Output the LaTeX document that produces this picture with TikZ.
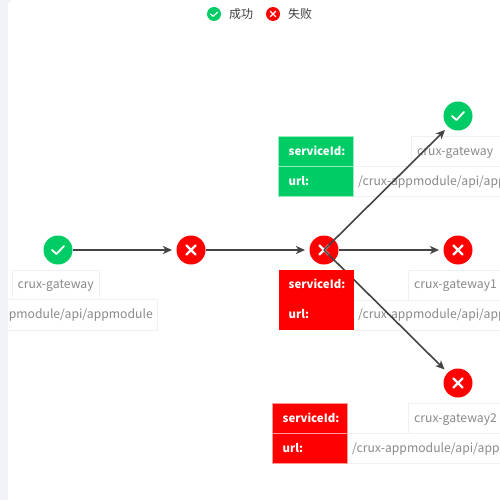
\documentclass[tikz,border=0pt]{standalone}
\usepackage{fontspec}
\setmainfont{Noto Sans CJK SC}
\usetikzlibrary{arrows.meta}
\definecolor{okc}{HTML}{00CC66}
\definecolor{badc}{HTML}{FF0000}
\definecolor{stripc}{HTML}{F2F3F9}
\definecolor{edgec}{HTML}{444444}
\definecolor{linec}{HTML}{F0F0F0}
\definecolor{txtc}{HTML}{8A8A8A}
\tikzset{
 x=1pt,y=-1pt,
 okdot/.style={circle,fill=okc,minimum size=29pt,inner sep=0pt},
 baddot/.style={circle,fill=badc,minimum size=29pt,inner sep=0pt},
 okleg/.style={circle,fill=okc,minimum size=14pt,inner sep=0pt},
 badleg/.style={circle,fill=badc,minimum size=14pt,inner sep=0pt},
 flow/.style={draw=edgec,line width=1.6pt,-{Stealth[length=9pt,width=8pt,inset=2.5pt]}},
 valbox/.style={draw=linec,line width=1pt,fill=white},
 valtxt/.style={text=txtc,font=\fontsize{12.2}{12}\selectfont,anchor=base west,inner sep=0pt},
 keytxt/.style={text=white,font=\fontsize{11.4}{12}\selectfont\bfseries,anchor=base west,inner sep=0pt},
 legtxt/.style={text=black!75,font=\fontsize{12}{12}\selectfont,anchor=west,inner sep=0pt},
 glyph/.style={draw=white,line width=1.8pt,line cap=round,line join=round}
}
\newcommand{\tickat}[2]{\draw[glyph] (#1-6,#2) -- (#1-1.5,#2+4) -- (#1+6,#2-4);}
\newcommand{\crossat}[2]{\draw[glyph,line width=2.4pt] (#1-4.5,#2-4.5) -- (#1+4.5,#2+4.5) (#1-4.5,#2+4.5) -- (#1+4.5,#2-4.5);}
\begin{document}
\begin{tikzpicture}
\useasboundingbox (0,0) rectangle (500,500);
\clip (0,0) rectangle (500,500);
\fill[stripc] (0,0) rectangle (500,500);
\fill[white,rounded corners=5pt] (8,0) rectangle (530,530);
% legend
\node[okleg] (legok) at (214,14) {};
\draw[glyph,line width=1.2pt] (210.5,14) -- (213.3,16.3) -- (217.5,12.2);
\node[legtxt] (legoktxt) at (229,14) {成功};
\node[badleg] (legbad) at (273,14) {};
\draw[glyph,line width=1.3pt] (270.3,11.3) -- (275.7,16.7) (270.3,16.7) -- (275.7,11.3);
\node[legtxt] (legbadtxt) at (288,14) {失败};
% value boxes
\begin{scope}
\clip (8,0) rectangle (500,500);
\draw[valbox] (12.5,270.5) rectangle (99.5,299.5);
\node[valtxt] (v1a) at (17.5,288) {crux-gateway};
\draw[valbox] (-40,299.5) rectangle (157.5,330);
\node[valtxt,anchor=base east] (v1b) at (153,318) {/crux-appmodule/api/appmodule};
\end{scope}
\draw[valbox] (411.5,136.5) rectangle (510,166.5);
\node[valtxt] (v2a) at (417,155) {crux-gateway};
\draw[valbox] (353.5,166.5) rectangle (510,196.5);
\node[valtxt] (v2b) at (358,185) {/crux-appmodule/api/appmodule};
\draw[valbox] (408.5,270.5) rectangle (510,300);
\node[valtxt] (v3a) at (414,288) {crux-gateway1};
\draw[valbox] (353.5,300) rectangle (510,330);
\node[valtxt] (v3b) at (358,318) {/crux-appmodule/api/appmodule};
\draw[valbox] (408.5,403.5) rectangle (510,433.5);
\node[valtxt] (v4a) at (414,422) {crux-gateway2};
\draw[valbox] (347.5,433.5) rectangle (510,463.5);
\node[valtxt] (v4b) at (352,452) {/crux-appmodule/api/appmodule};
% nodes
\node[okdot] (n1) at (58,250) {};
\node[baddot] (n2) at (191,250) {};
\node[baddot] (n3) at (324,250) {};
\node[okdot] (n4) at (458,116) {};
\node[baddot] (n5) at (458,250) {};
\node[baddot] (n6) at (458,383) {};
\tickat{58}{250}
\crossat{191}{250}
\tickat{458}{116}
\crossat{458}{250}
\crossat{458}{383}
\crossat{324}{250}
% edges
\coordinate (t1) at (172,250);
\coordinate (t2) at (305,250);
\coordinate (t3) at (445,130);
\coordinate (t4) at (439,250);
\coordinate (t5) at (444.5,369.5);
\draw[flow] (n1) -- (t1);
\draw[flow] (n2) -- (t2);
\draw[flow] (n3) -- (t4);
\draw[flow] (n3.center) -- (t3);
\draw[flow] (n3.center) -- (t5);
% key boxes
\fill[okc] (278.5,136.5) rectangle (353.5,196.5);
\draw[white!60!okc,line width=.8pt] (278.5,136.5) rectangle (353.5,166.5) (278.5,166.5) rectangle (353.5,196.5);
\node[keytxt] (k1a) at (288.5,155) {serviceId:};
\node[keytxt] (k1b) at (288.5,185) {url:};
\fill[badc] (278.5,270) rectangle (353.5,330);
\node[keytxt] (k2a) at (288.5,288) {serviceId:};
\node[keytxt] (k2b) at (288.5,318) {url:};
\fill[badc] (272.5,403.5) rectangle (347.5,463.5);
\draw[white!60!badc,line width=.8pt] (272.5,403.5) rectangle (347.5,433.5) (272.5,433.5) rectangle (347.5,463.5);
\node[keytxt] (k3a) at (282.5,422) {serviceId:};
\node[keytxt] (k3b) at (282.5,452) {url:};
\end{tikzpicture}
\end{document}
